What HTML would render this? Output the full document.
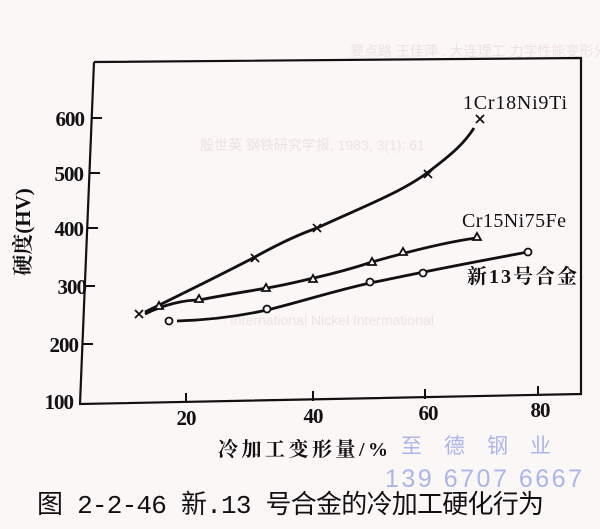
<!DOCTYPE html>
<html><head><meta charset="utf-8"><style>
body{margin:0;background:#fbf8f8;}
svg{display:block}
</style></head><body>
<svg width="600" height="529" viewBox="0 0 600 529" xmlns="http://www.w3.org/2000/svg">
<rect width="600" height="529" fill="#fbf7f7"/>
<g fill="#eee2e2" font-family="Liberation Sans, Noto Sans CJK SC, sans-serif" font-size="14">
<text x="350" y="56">要点路 王佳萍 . 大连理工 力学性能变形分析与制</text>
<text x="200" y="150">殷世英 钢铁研究学报, 1983, 3(1): 61</text>
<text x="230" y="325">International Nickel Intermational</text>
</g>
<g stroke="#111" stroke-width="2.2" fill="none">
<polyline points="94,62 581,58 581,394 80,404 94,62"/>
</g>
<g stroke="#111" stroke-width="2" fill="none">
<line x1="91" y1="118" x2="102" y2="118"/><line x1="89" y1="173" x2="100" y2="173"/>
<line x1="87" y1="228" x2="98" y2="228"/><line x1="84" y1="286" x2="95" y2="286"/>
<line x1="82" y1="344" x2="93" y2="344"/>
<line x1="186" y1="393" x2="186" y2="403"/><line x1="313" y1="391" x2="313" y2="401"/>
<line x1="425" y1="389" x2="425" y2="399"/><line x1="538" y1="386" x2="538" y2="396"/>
</g>
<g stroke="#111" stroke-width="2.8" fill="none">
<path d="M145,312 C190,290 230,270 255,257 C280,243 300,234 317,228 C360,208 400,193 427,173 C455,152 465,142 474,128"/>
<path d="M145,314 C165,304 185,300 199,300 C230,294 250,291 267,288 C290,284 300,281 314,278 C340,272 360,266 372,262 C400,254 440,243 476,238"/>
<path d="M177,321 C210,320 240,316 267,310 C300,302 330,292 370,283 C400,277 430,270 528,252"/>
</g>
<g stroke="#111" stroke-width="1.8" fill="#fbf7f7">
<path d="M135,310 l8,8 M143,310 l-8,8 M251,254 l8,8 M259,254 l-8,8 M313,224 l8,8 M321,224 l-8,8 M424,170 l8,8 M432,170 l-8,8 M476,115 l8,8 M484,115 l-8,8"/>
<path d="M159,302 l4,7 h-8z M199,295 l4,7 h-8z M266,284 l4,7 h-8z M313,275 l4,7 h-8z M372,258 l4,7 h-8z M403,248 l4,7 h-8z M477,233 l4,7 h-8z"/>
<circle cx="169" cy="321" r="3.5"/><circle cx="267" cy="309" r="3.5"/><circle cx="370" cy="282" r="3.5"/><circle cx="423" cy="273" r="3.5"/><circle cx="528" cy="252" r="3.5"/>
</g>
<g font-family="Liberation Serif, Noto Serif CJK SC, serif" font-size="21" fill="#111" font-weight="bold" letter-spacing="-1">
<text x="84" y="126" text-anchor="end">600</text>
<text x="83" y="181" text-anchor="end">500</text>
<text x="83" y="236" text-anchor="end">400</text>
<text x="86" y="294" text-anchor="end">300</text>
<text x="78" y="352" text-anchor="end">200</text>
<text x="73" y="409" text-anchor="end">100</text>
<text x="186" y="425" text-anchor="middle">20</text>
<text x="313" y="423" text-anchor="middle">40</text>
<text x="428" y="420" text-anchor="middle">60</text>
<text x="540" y="417" text-anchor="middle">80</text>
</g>
<g font-family="Liberation Serif, Noto Serif CJK SC, serif" font-size="20" fill="#111">
<text x="463" y="109" textLength="104">1Cr18Ni9Ti</text>
<text x="462" y="227" textLength="104">Cr15Ni75Fe</text>
<text x="467" y="283" font-weight="bold" textLength="110">新13号合金</text>
<text x="30" y="232" font-weight="bold" transform="rotate(-90 30 232)" text-anchor="middle" font-size="21">硬度(HV)</text>
<text x="218" y="456" font-weight="bold" textLength="170">冷加工变形量/%</text>
</g>
<g font-family="Liberation Sans, Noto Sans CJK SC, sans-serif" fill="#aab5ec">
<text x="401" y="453" font-size="21" letter-spacing="22">至德钢业</text>
<text x="385" y="487" font-size="25" textLength="197">139 6707 6667</text>
</g>
<text x="37" y="513" font-family="Liberation Mono, Noto Sans CJK SC, sans-serif" font-size="26" fill="#111" textLength="507">图 2-2-46  新.13 号合金的冷加工硬化行为</text>
</svg>
</body></html>
